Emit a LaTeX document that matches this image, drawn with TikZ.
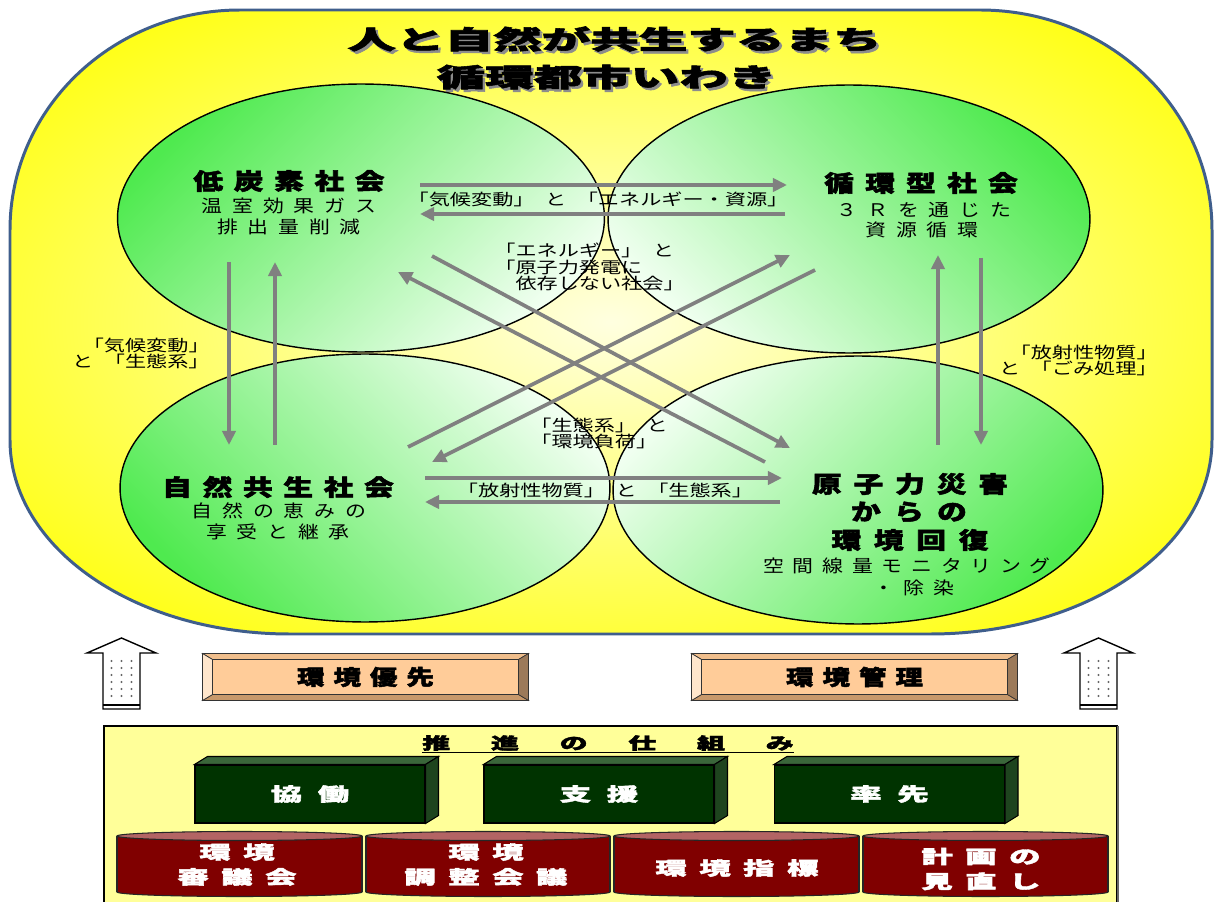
\documentclass[tikz,border=0pt]{standalone}
\usepackage{fontspec}
\newfontfamily\jp[BoldFeatures={FakeBold=2}]{Noto Sans CJK JP}
\usetikzlibrary{arrows.meta,shapes.geometric}
\definecolor{frame}{HTML}{3F5E8C}
\definecolor{ylw}{HTML}{FFFF00}
\definecolor{ylwmid}{HTML}{FFFF70}
\definecolor{ylwpale}{HTML}{FFFFE0}
\definecolor{grn}{HTML}{4FEA4F}
\definecolor{grnpale}{HTML}{F0FFF0}
\definecolor{arr}{HTML}{808080}
\definecolor{peach}{HTML}{FFCC99}
\definecolor{peachlt}{HTML}{FFE6CC}
\definecolor{peachtop}{HTML}{F0BE8C}
\definecolor{peachdk}{HTML}{9C7A5A}
\definecolor{peachbot}{HTML}{C8996B}
\definecolor{panel}{HTML}{FFFF99}
\definecolor{gfront}{HTML}{003300}
\definecolor{gtop}{HTML}{3A663A}
\definecolor{gside}{HTML}{1E441E}
\definecolor{cylred}{HTML}{800000}
\definecolor{cyltop}{HTML}{B36464}
\pgfdeclareradialshading{glow}{\pgfpoint{0bp}{0bp}}{color(0bp)=(ylwpale); color(17bp)=(ylwmid); color(34bp)=(ylw); color(100bp)=(ylw)}
% letter spacing: \ls{gap}{text}, \sx{xscale}{gap}{text}
\makeatletter
\def\ls@gap{0pt}
\def\ls@loop#1{\ifx\relax#1\else\kern\ls@gap#1\expandafter\ls@loop\fi}
\newcommand\ls[2]{\def\ls@gap{#1}\kern-#1\relax\ls@loop#2\relax}
\makeatother
\newcommand\sx[3]{\scalebox{#1}[1]{\ls{#2}{#3}}}
\newcommand\wx[2]{\scalebox{#1}[1]{#2}}
\newcommand\hs{\hspace{.5em}}
\newcommand\bevel[1]{%
  \filldraw[bvl, fill=peachtop] (#1.north west) -- (#1.north east) -- ([shift={(-10,6)}]#1.north east) -- ([shift={(10,6)}]#1.north west) -- cycle;
  \filldraw[bvl, fill=peachbot] (#1.south west) -- (#1.south east) -- ([shift={(-10,-6)}]#1.south east) -- ([shift={(10,-6)}]#1.south west) -- cycle;
  \filldraw[bvl, fill=peachlt] (#1.north west) -- (#1.south west) -- ([shift={(10,-6)}]#1.south west) -- ([shift={(10,6)}]#1.north west) -- cycle;
  \filldraw[bvl, fill=peachdk] (#1.north east) -- (#1.south east) -- ([shift={(-10,-6)}]#1.south east) -- ([shift={(-10,6)}]#1.north east) -- cycle;
}
\tikzset{
  ttl/.style={font=\jp\bfseries\fontsize{14.7pt}{16pt}\selectfont, inner sep=0pt},
  hd/.style={font=\jp\bfseries\fontsize{13pt}{14pt}\selectfont, inner sep=0pt},
  sub/.style={font=\jp\fontsize{9.9pt}{11pt}\selectfont, inner sep=0pt},
  lbl/.style={font=\jp\fontsize{9.05pt}{9.5pt}\selectfont, inner sep=0pt},
  circ/.style={ellipse, draw=black, line width=0.8pt, inner sep=0pt, minimum height=5.36cm},
  arw/.style={draw=arr, line width=2.1pt, -{Triangle[length=8pt,width=7.5pt]}},
  blk/.style={draw=black, fill=white, line width=0.8pt},
  btn/.style={fill=peach, draw=black, line width=0.5pt, minimum width=6.5cm, minimum height=0.92cm, inner sep=0pt,
    font=\jp\bfseries\fontsize{12pt}{13pt}\selectfont},
  bvl/.style={draw=black!80, line width=0.4pt},
  gbox/.style={fill=gfront, draw=black, line width=0.6pt, minimum width=4.6cm, minimum height=1.16cm, inner sep=0pt,
    text=white, font=\jp\bfseries\fontsize{10.5pt}{12pt}\selectfont},
  gedge/.style={draw=black, line width=0.6pt},
  cyl/.style={draw=black!85, line width=0.6pt},
  ctxt/.style={text=white, align=center, inner sep=0pt, font=\jp\bfseries\fontsize{10.5pt}{14.2pt}\selectfont},
  ptl/.style={font=\jp\bfseries\fontsize{9.35pt}{11pt}\selectfont, inner xsep=0pt, inner ysep=1pt}
}
\begin{document}
\begin{tikzpicture}[x=0.02cm, y=-0.02cm]
  \useasboundingbox (0,0) rectangle (1215,902);
  \fill[white] (0,0) rectangle (1215,902);

  % outer field
  \path[shading=glow, draw=frame, line width=1.7pt]
    (10,230) .. controls (10,108) and (113,10) .. (240,10) -- (980,10)
    .. controls (1108,10) and (1212,108) .. (1212,230) -- (1212,440)
    .. controls (1212,548) and (1086,634) .. (930,634) -- (290,634)
    .. controls (135,634) and (10,548) .. (10,440) -- cycle;

  \node[ttl, text=black!45] (tt1s) at (617,41.5) {\wx{1.88}{人と自然が共生するまち}};
  \node[ttl, text=black!45] (tt2s) at (609,79.5) {\wx{1.88}{循環都市いわき}};
  \node[ttl] (tt1) at (614.5,39) {\wx{1.88}{人と自然が共生するまち}};
  \node[ttl] (tt2) at (606.5,77) {\wx{1.88}{循環都市いわき}};

  % four societies
  \node[circ, top color=grn, bottom color=grnpale, shading angle=45, minimum width=9.74cm] (lowc) at (361,218) {};
  \node[circ, top color=grn, bottom color=grnpale, shading angle=-45, minimum width=9.64cm] (cycl) at (849,219) {};
  \node[circ, top color=grn, bottom color=grnpale, shading angle=135, minimum width=9.8cm] (natu) at (365,488) {};
  \node[circ, top color=grn, bottom color=grnpale, shading angle=-135, minimum width=9.8cm] (nucl) at (858,490) {};

  \node[hd] (hlow) at (289,181) {\sx{1.3}{.36em}{低炭素社会}};
  \node[sub] (slow1) at (289,206) {\sx{1.2}{.47em}{温室効果ガス}};
  \node[sub] (slow2) at (289,227) {\sx{1.2}{.47em}{排出量削減}};
  \node[hd] (hcyc) at (921,183) {\sx{1.3}{.38em}{循環型社会}};
  \node[sub] (scyc1) at (924,210) {\sx{1.2}{.47em}{３Ｒを通じた}};
  \node[sub] (scyc2) at (922,230) {\sx{1.2}{.47em}{資源循環}};
  \node[hd] (hnat) at (278,487) {\sx{1.3}{.36em}{自然共生社会}};
  \node[sub] (snat1) at (279,511) {\sx{1.2}{.47em}{自然の恵みの}};
  \node[sub] (snat2) at (278,532) {\sx{1.2}{.47em}{享受と継承}};
  \node[hd] (hnuc1) at (910,484) {\sx{1.3}{.4em}{原子力災害}};
  \node[hd] (hnuc2) at (909,512) {\sx{1.3}{.45em}{からの}};
  \node[hd] (hnuc3) at (910,540) {\sx{1.3}{.43em}{環境回復}};
  \node[sub] (snuc1) at (907,566) {\sx{1.2}{.42em}{空間線量モニタリング}};
  \node[sub] (snuc2) at (914,588) {\sx{1.2}{.42em}{・除染}};

  % links
  \coordinate (t1a) at (420,185); \coordinate (t1b) at (787,185);
  \coordinate (t2a) at (785,214); \coordinate (t2b) at (420,214);
  \coordinate (l1a) at (229,262); \coordinate (l1b) at (229,445);
  \coordinate (l2a) at (275,445); \coordinate (l2b) at (275,262);
  \coordinate (r1a) at (938,445); \coordinate (r1b) at (938,255);
  \coordinate (r2a) at (981,258); \coordinate (r2b) at (981,445);
  \coordinate (b1a) at (425,478); \coordinate (b1b) at (782,478);
  \coordinate (b2a) at (780,502); \coordinate (b2b) at (425,502);
  \coordinate (d1a) at (432,256); \coordinate (d1b) at (790,448);
  \coordinate (d2a) at (765,462); \coordinate (d2b) at (398,272);
  \coordinate (d3a) at (408,447); \coordinate (d3b) at (790,255);
  \coordinate (d4a) at (815,270); \coordinate (d4b) at (432,462);
  \foreach \s/\e in {t1a/t1b,t2a/t2b,l1a/l1b,l2a/l2b,r1a/r1b,r2a/r2b,b1a/b1b,b2a/b2b,d1a/d1b,d2a/d2b,d3a/d3b,d4a/d4b}
    \draw[arw] (\s) -- (\e);

  \node[lbl] (ktop) at (598,199) {\wx{1.33}{「気候変動」\hs と\hs 「エネルギー・資源」}};
  \node[lbl, align=left, anchor=west] (kmid) at (494,267)
    {\wx{1.33}{「エネルギー」\hs と}\\\wx{1.33}{「原子力発電に}\\\wx{1.33}{　依存しない社会」}};
  \node[lbl, align=left, anchor=west] (kmid2) at (530,433.5)
    {\wx{1.33}{「生態系」\hs と}\\\wx{1.33}{「環境負荷」}};
  \node[lbl] (kbot) at (605,490) {\wx{1.33}{「放射性物質」\hs と\hs 「生態系」}};
  \node[lbl, align=right, anchor=east] (kleft) at (210,353.5)
    {\wx{1.33}{「気候変動」}\\\wx{1.33}{と\hs 「生態系」}};
  \node[lbl, align=right, anchor=east] (kright) at (1158,360.5)
    {\wx{1.33}{「放射性物質」}\\\wx{1.33}{と\hs 「ごみ処理」}};

  % block arrows
  \foreach \cx in {121.5,1098.5}{
    \draw[blk] (\cx,638) -- (\cx+34.5,653) -- (\cx+18.5,653) -- (\cx+18.5,709)
      -- (\cx-18.5,709) -- (\cx-18.5,653) -- (\cx-34.5,653) -- cycle;
    \foreach \dx in {-10,0,10}
      \foreach \dy in {661,668,...,700}
        \fill[black!60] (\cx+\dx,\dy) circle[radius=0.65pt];
    \draw[line width=0.9pt] (\cx-18.5,705) -- (\cx+18.5,705);
  }

  \node[btn] (bprio) at (365.5,677) {\sx{1.3}{.33em}{環境優先}};
  \bevel{bprio}
  \node[btn] (bmgmt) at (854.5,677) {\sx{1.3}{.33em}{環境管理}};
  \bevel{bmgmt}

  % mechanism panel
  \filldraw[fill=panel, draw=black, line width=0.8pt] (104,726) rectangle (1117,910);
  \draw[black!60, line width=1.6pt] (1118,726) -- (1118,902);
  \node[ptl] (mech) at (608,743) {\sx{1.7}{1.46em}{推進の仕組み}};
  \draw[line width=0.6pt] (mech.south west) -- (mech.south east);

  \node[gbox] (kyo) at (310,794) {\sx{1.7}{.5em}{協働}};
  \node[gbox] (shi) at (599,794) {\sx{1.7}{.5em}{支援}};
  \node[gbox] (sot) at (889.5,794) {\sx{1.7}{.5em}{率先}};
  \foreach \b in {kyo,shi,sot}{
    \filldraw[gedge, fill=gtop] (\b.north west) -- ++(13,-8) -- ([shift={(13,-8)}]\b.north east) -- (\b.north east) -- cycle;
    \filldraw[gedge, fill=gside] (\b.north east) -- ++(13,-8) -- ([shift={(13,-8)}]\b.south east) -- (\b.south east) -- cycle;
  }

  \foreach \xa/\xb in {117/362,366/610,614/859,863/1108}{
    \filldraw[cyl, fill=cylred] ({(\xa+\xb)/2},892) ellipse[x radius={(\xb-\xa)/2}, y radius=4.5];
    \fill[cylred] (\xa,836) rectangle (\xb,892);
    \draw[cyl] (\xa,836) -- (\xa,892) (\xb,836) -- (\xb,892);
    \filldraw[cyl, fill=cyltop] ({(\xa+\xb)/2},836) ellipse[x radius={(\xb-\xa)/2}, y radius=4.5];
  }
  \node[ctxt] (cshin) at (237,864.5) {\sx{1.7}{.4em}{環境}\\\sx{1.7}{.4em}{審議会}};
  \node[ctxt] (cchou) at (486,864.5) {\sx{1.7}{.4em}{環境}\\\sx{1.7}{.4em}{調整会議}};
  \node[ctxt] (cshih) at (737,868) {\sx{1.7}{.4em}{環境指標}};
  \node[ctxt] (ckei) at (981,869) {\sx{1.7}{.4em}{計画の}\\\sx{1.7}{.4em}{見直し}};
\end{tikzpicture}
\end{document}
